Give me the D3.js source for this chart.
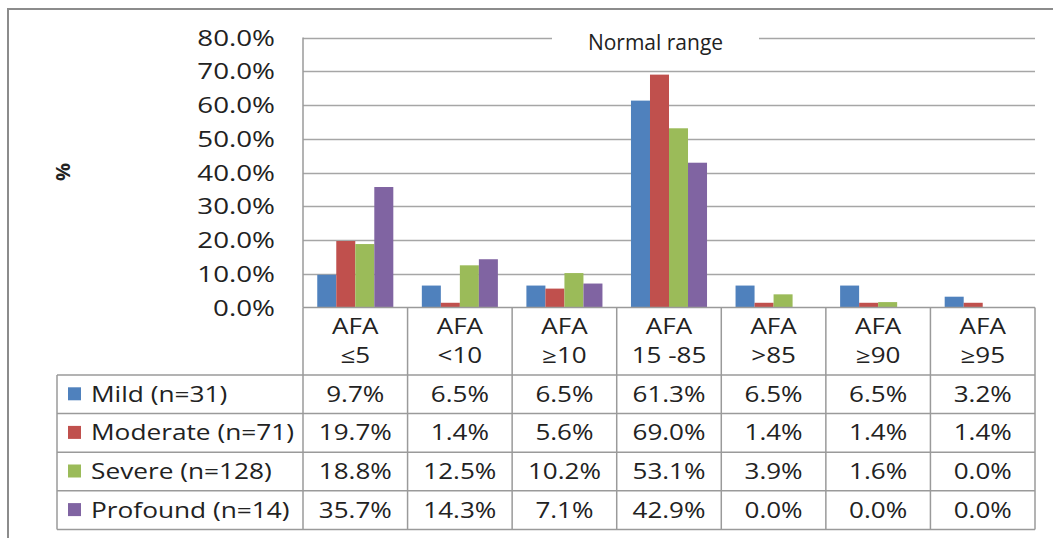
<!DOCTYPE html>
<html>
<head>
<meta charset="utf-8">
<script src="https://cdn.jsdelivr.net/npm/d3@7"></script>
<style>
  html, body { margin: 0; padding: 0; background: #fff; }
  svg { display: block; }
  text { font-family: "Open Sans", "Noto Sans", sans-serif; fill: #222; }
</style>
</head>
<body>
<svg id="chart" width="1053" height="538"></svg>
<script>
// Age-of-first-aid categories (label lines separated by the first space)
const categories = ["AFA ≤5", "AFA <10", "AFA ≥10", "AFA 15 -85", "AFA >85", "AFA ≥90", "AFA ≥95"];
const seriesNames = ["Mild (n=31)", "Moderate (n=71)", "Severe (n=128)", "Profound (n=14)"];
const mild     = [9.7, 6.5, 6.5, 61.3, 6.5, 6.5, 3.2];
const moderate = [19.7, 1.4, 5.6, 69.0, 1.4, 1.4, 1.4];
const severe   = [18.8, 12.5, 10.2, 53.1, 3.9, 1.6, 0.0];
const profound = [35.7, 14.3, 7.1, 42.9, 0.0, 0.0, 0.0];
const yTicks = [0, 10, 20, 30, 40, 50, 60, 70, 80];
const colors = ["#4F81BD", "#C0504D", "#9BBB59", "#8064A2"];

const seriesValues = [mild, moderate, severe, profound];

const svg = d3.select("#chart");

// layout
const plotLeft = 303, plotRight = 1035, plotTop = 37.5, plotBottom = 307.5;
const tableLeft = 57;
const headerBottom = 375;
const rowH = 38.6;
const gridColor = "#a6a6a6";
const tableColor = "#9a9a9a";
const fontSize = 21;

// horizontally stretched text helper
function label(g, x, y, txt, opts = {}) {
  const sx = opts.sx ?? 1.24;
  return g.append("text")
    .attr("transform", `translate(${x},${y}) scale(${sx},1)`)
    .attr("text-anchor", opts.anchor || "middle")
    .attr("font-size", opts.size || fontSize)
    .attr("font-weight", opts.weight || "normal")
    .text(txt);
}

// outer frame
svg.append("rect")
  .attr("x", 8).attr("y", 9)
  .attr("width", 1100).attr("height", 600)
  .attr("fill", "none")
  .attr("stroke", "#8c8c8c")
  .attr("stroke-width", 2);

const x = d3.scaleBand().domain(categories).range([plotLeft, plotRight]).padding(0);
const bw = x.bandwidth() / 5.5;
const x1 = d3.scaleBand().domain(d3.range(seriesNames.length))
  .range([0.75 * bw, x.bandwidth() - 0.75 * bw]).padding(0);
const y = d3.scaleLinear().domain([0, 80]).range([plotBottom, plotTop]);

// gridlines (top one is interrupted by the "Normal range" label)
const grid = svg.append("g");
yTicks.filter(t => t > 0).forEach(t => {
  const yy = Math.round(y(t)) + 0.5;
  const segs = t === 80 ? [[plotLeft, 552], [759, plotRight]] : [[plotLeft, plotRight]];
  segs.forEach(([a, b]) => {
    grid.append("line").attr("x1", a).attr("x2", b).attr("y1", yy).attr("y2", yy)
      .attr("stroke", gridColor).attr("stroke-width", 1.5);
  });
});

// y axis labels
const yAxis = svg.append("g")
  .attr("transform", `translate(${plotLeft},0)`)
  .call(d3.axisLeft(y).tickValues(yTicks).tickSize(0)
    .tickFormat(d => d3.format(".1f")(d) + "%"));
yAxis.select(".domain").remove();
yAxis.selectAll(".tick text")
  .attr("font-size", fontSize)
  .attr("font-family", "'Open Sans', sans-serif")
  .attr("fill", "#222")
  .attr("dy", "0.36em")
  .attr("x", null)
  .attr("transform", "translate(-28,0) scale(1.32,1)");

// axis title
svg.append("text")
  .attr("transform", "translate(70,172) rotate(-90)")
  .attr("text-anchor", "middle")
  .attr("font-size", 20)
  .attr("font-weight", "bold")
  .text("%");

// bars
const bars = svg.append("g");
seriesValues.forEach((vals, si) => {
  bars.selectAll(null).data(vals).enter().append("rect")
    .attr("x", (d, i) => x(categories[i]) + x1(si))
    .attr("width", x1.bandwidth())
    .attr("y", d => y(d))
    .attr("height", d => plotBottom - y(d))
    .attr("fill", colors[si]);
});

// "Normal range" label
label(svg, 655.5, 50, "Normal range", { sx: 1.0, size: 21 }).attr("fill", "#111");

// data table
const table = svg.append("g");
const rowLines = d3.range(seriesNames.length + 1).map(i => headerBottom + i * rowH);
const tableBottom = rowLines[rowLines.length - 1];

function tline(x1v, y1v, x2v, y2v) {
  table.append("line").attr("x1", x1v).attr("x2", x2v).attr("y1", y1v).attr("y2", y2v)
    .attr("stroke", tableColor).attr("stroke-width", 1.5);
}

// vertical lines between categories
categories.forEach(c => tline(x(c), plotBottom, x(c), tableBottom));
tline(plotRight, plotBottom, plotRight, tableBottom);
tline(tableLeft, headerBottom, tableLeft, tableBottom);

// horizontal lines
tline(plotLeft, plotBottom, plotRight, plotBottom);
rowLines.forEach(yy => tline(tableLeft, yy, plotRight, yy));
// value axis line
tline(plotLeft, plotTop, plotLeft, plotBottom);

// category headers
categories.forEach(c => {
  const sp = c.indexOf(" ");
  const cx = x(c) + x.bandwidth() / 2;
  label(table, cx, 334, c.slice(0, sp));
  label(table, cx, 363, c.slice(sp + 1));
});

// series rows
seriesNames.forEach((name, si) => {
  const cy = rowLines[si] + rowH / 2;
  table.append("rect")
    .attr("x", 68).attr("y", cy - 7)
    .attr("width", 13).attr("height", 13)
    .attr("fill", colors[si]);
  label(table, 91, cy + 7.5, name, { anchor: "start", sx: 1.25 });
  seriesValues[si].forEach((v, i) => {
    label(table, x(categories[i]) + x.bandwidth() / 2, cy + 7.5, v.toFixed(1) + "%");
  });
});
</script>
</body>
</html>
